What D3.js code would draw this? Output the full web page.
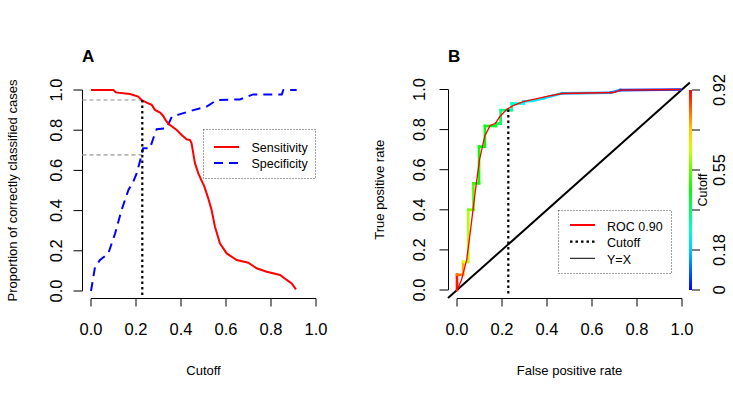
<!DOCTYPE html>
<html>
<head>
<meta charset="utf-8">
<script src="https://cdn.jsdelivr.net/npm/d3@7"></script>
<style>
  body { margin: 0; background: #fff; }
  text { font-family: "Liberation Sans", Arial, sans-serif; fill: #000; }
</style>
</head>
<body>
<script>
// panel A: sensitivity / specificity versus cutoff
const sensCut = [0, 0.1, 0.11, 0.173, 0.21, 0.225, 0.247, 0.27, 0.284, 0.307, 0.32, 0.336, 0.351, 0.381, 0.403, 0.425, 0.44, 0.447, 0.462, 0.477, 0.49, 0.504, 0.521, 0.536, 0.551, 0.573, 0.603, 0.648, 0.699, 0.736, 0.781, 0.84, 0.87, 0.892, 0.911];
const sensVal = [1, 1, 0.988, 0.98, 0.967, 0.95, 0.937, 0.926, 0.901, 0.888, 0.872, 0.843, 0.826, 0.801, 0.776, 0.755, 0.751, 0.735, 0.636, 0.585, 0.553, 0.519, 0.461, 0.403, 0.32, 0.237, 0.187, 0.154, 0.141, 0.113, 0.096, 0.08, 0.055, 0.038, 0.008];
const specCut = [0, 0.018, 0.04, 0.077, 0.107, 0.136, 0.166, 0.188, 0.203, 0.225, 0.232, 0.262, 0.277, 0.292, 0.336, 0.359, 0.396, 0.455, 0.514, 0.559, 0.662, 0.721, 0.848, 0.855, 0.914];
const specVal = [0, 0.12, 0.154, 0.187, 0.286, 0.403, 0.502, 0.544, 0.585, 0.676, 0.71, 0.71, 0.76, 0.805, 0.81, 0.867, 0.88, 0.9, 0.917, 0.95, 0.953, 0.978, 0.978, 1, 1];
const bestCutoff = 0.228;
const bestSens = 0.95;
const bestSpec = 0.677;

// panel B: ROC steps coloured by cutoff, plus smoothed ROC
const rocFpr = [0, 0, 0.027, 0.027, 0.05, 0.05, 0.073, 0.073, 0.098, 0.098, 0.124, 0.124, 0.173, 0.173, 0.194, 0.194, 0.243, 0.243, 0.295, 0.295, 0.34, 0.384, 0.422, 0.466, 0.681, 0.726, 0.993];
const rocTpr = [0, 0.076, 0.076, 0.14, 0.14, 0.4, 0.4, 0.532, 0.532, 0.715, 0.715, 0.818, 0.818, 0.83, 0.83, 0.897, 0.897, 0.93, 0.93, 0.94, 0.944, 0.956, 0.968, 0.981, 0.984, 0.997, 1];
const rocCut = [0.9, 0.82, 0.76, 0.66, 0.62, 0.57, 0.53, 0.49, 0.47, 0.46, 0.45, 0.44, 0.42, 0.4, 0.37, 0.34, 0.31, 0.27, 0.23, 0.22, 0.21, 0.2, 0.19, 0.16, 0.12, 0.06, 0.03];
const smoothFpr = [0, 0.02, 0.043, 0.058, 0.08, 0.1, 0.124, 0.147, 0.17, 0.19, 0.22, 0.25, 0.295, 0.4, 0.466, 0.696, 0.726, 0.993];
const smoothTpr = [0, 0.05, 0.15, 0.28, 0.48, 0.65, 0.77, 0.82, 0.83, 0.864, 0.9, 0.92, 0.94, 0.966, 0.98, 0.985, 0.997, 1];
const bestTpr = 0.9;

const axisTicks = [0, 0.2, 0.4, 0.6, 0.8, 1];
const axisLabels = ["0.0", "0.2", "0.4", "0.6", "0.8", "1.0"];
const cbTicks = [0, 0.184, 0.368, 0.552, 0.736, 0.92];
const cbLabels = ["0", "0.18", "", "0.55", "", "0.92"];

const svg = d3.select("body").append("svg")
  .attr("width", 733).attr("height", 400);

const xA = d3.scaleLinear([0, 1], [91, 316]);
const yA = d3.scaleLinear([0, 1], [291, 90]);
const xB = d3.scaleLinear([0, 1], [457, 682]);
const yB = d3.scaleLinear([0, 1], [290, 89.5]);

const hue = d3.scaleLinear([0, 0.92], [240, 0]);
const cutColor = c => d3.hsl(hue(c), 1, 0.5).toString();

function drawAxes(x, y, yLine, xLine, yLabelX, xLabelY) {
  const g = svg.append("g");
  g.append("line").attr("x1", x(0)).attr("x2", x(1))
    .attr("y1", yLine).attr("y2", yLine).attr("stroke", "#000");
  axisTicks.forEach((t, i) => {
    g.append("line").attr("x1", x(t)).attr("x2", x(t))
      .attr("y1", yLine).attr("y2", yLine + 8).attr("stroke", "#000");
    g.append("text").attr("x", x(t)).attr("y", xLabelY)
      .attr("text-anchor", "middle").attr("font-size", 16.5).text(axisLabels[i]);
  });
  g.append("line").attr("x1", xLine).attr("x2", xLine)
    .attr("y1", y(0)).attr("y2", y(1)).attr("stroke", "#000");
  axisTicks.forEach((t, i) => {
    g.append("line").attr("x1", xLine - 9).attr("x2", xLine)
      .attr("y1", y(t)).attr("y2", y(t)).attr("stroke", "#000");
    g.append("text").attr("transform", `translate(${yLabelX},${y(t)}) rotate(-90)`)
      .attr("text-anchor", "middle").attr("font-size", 16.5).text(axisLabels[i]);
  });
}

// ---------- panel A ----------
drawAxes(xA, yA, 298.5, 82.5, 61.5, 335);
svg.append("text").attr("x", 82).attr("y", 62).attr("font-size", 17)
  .attr("font-weight", "bold").text("A");
svg.append("text").attr("x", xA(0.5)).attr("y", 375).attr("text-anchor", "middle")
  .attr("font-size", 13).text("Cutoff");
svg.append("text").attr("transform", `translate(17,${yA(0.5)}) rotate(-90)`)
  .attr("text-anchor", "middle").attr("font-size", 13)
  .text("Proportion of correctly classified cases");

[bestSens, bestSpec].forEach(v => {
  svg.append("line").attr("x1", 82.5).attr("x2", xA(bestCutoff))
    .attr("y1", yA(v)).attr("y2", yA(v))
    .attr("stroke", "#b4b4b4").attr("stroke-width", 1.6).attr("stroke-dasharray", "4,3");
});

const lineA = d3.line().x(d => xA(d[0])).y(d => yA(d[1]));
svg.append("path").datum(d3.zip(specCut, specVal)).attr("d", lineA)
  .attr("fill", "none").attr("stroke", "#0000ff").attr("stroke-width", 2)
  .attr("stroke-dasharray", "9,6");
svg.append("path").datum(d3.zip(sensCut, sensVal)).attr("d", lineA)
  .attr("fill", "none").attr("stroke", "#ff0000").attr("stroke-width", 2);
svg.append("line").attr("x1", xA(bestCutoff)).attr("x2", xA(bestCutoff))
  .attr("y1", yA(bestSens)).attr("y2", yA(-0.02))
  .attr("stroke", "#000").attr("stroke-width", 2.2).attr("stroke-dasharray", "2.5,3");

// legend A
svg.append("rect").attr("x", 203.5).attr("y", 129.5).attr("width", 112).attr("height", 49)
  .attr("fill", "none").attr("stroke", "#444").attr("stroke-dasharray", "1,2");
svg.append("line").attr("x1", 214).attr("x2", 239).attr("y1", 147).attr("y2", 147)
  .attr("stroke", "#ff0000").attr("stroke-width", 2);
svg.append("line").attr("x1", 214).attr("x2", 240).attr("y1", 163).attr("y2", 163)
  .attr("stroke", "#0000ff").attr("stroke-width", 2).attr("stroke-dasharray", "9,6");
svg.append("text").attr("x", 251.5).attr("y", 151.7).attr("font-size", 12.5).text("Sensitivity");
svg.append("text").attr("x", 251.5).attr("y", 167.5).attr("font-size", 12.5).text("Specificity");

// ---------- panel B ----------
drawAxes(xB, yB, 298.5, 448.5, 425, 335);
svg.append("text").attr("x", 448).attr("y", 62).attr("font-size", 17)
  .attr("font-weight", "bold").text("B");
svg.append("text").attr("x", xB(0.5)).attr("y", 375).attr("text-anchor", "middle")
  .attr("font-size", 13).text("False positive rate");
svg.append("text").attr("transform", `translate(384,${yB(0.5)}) rotate(-90)`)
  .attr("text-anchor", "middle").attr("font-size", 13).text("True positive rate");

// Y = X
svg.append("line").attr("x1", xB(-0.04)).attr("y1", yB(-0.04))
  .attr("x2", xB(1.035)).attr("y2", yB(1.035))
  .attr("stroke", "#000").attr("stroke-width", 2);

// coloured step ROC
for (let i = 0; i < rocFpr.length - 1; i++) {
  svg.append("line")
    .attr("x1", xB(rocFpr[i])).attr("y1", yB(rocTpr[i]))
    .attr("x2", xB(rocFpr[i + 1])).attr("y2", yB(rocTpr[i + 1]))
    .attr("stroke", cutColor(rocCut[i])).attr("stroke-width", 2.6)
    .attr("stroke-linecap", "square");
}
const lineB = d3.line().x(d => xB(d[0])).y(d => yB(d[1]));
svg.append("path").datum(d3.zip(smoothFpr, smoothTpr)).attr("d", lineB)
  .attr("fill", "none").attr("stroke", "#ff0000").attr("stroke-width", 1.3);

svg.append("line").attr("x1", xB(bestCutoff)).attr("x2", xB(bestCutoff))
  .attr("y1", yB(bestTpr)).attr("y2", yB(-0.025))
  .attr("stroke", "#000").attr("stroke-width", 2.2).attr("stroke-dasharray", "2.5,3");

// colour bar
const cb = d3.scaleLinear([0, 0.92], [290, 90]);
const grad = svg.append("defs").append("linearGradient").attr("id", "cbGrad")
  .attr("x1", 0).attr("y1", 1).attr("x2", 0).attr("y2", 0);
d3.range(0, 1.0001, 0.1).forEach(f => {
  grad.append("stop").attr("offset", f).attr("stop-color", cutColor(f * 0.92));
});
svg.append("rect").attr("x", 689).attr("y", cb(0.92)).attr("width", 3)
  .attr("height", cb(0) - cb(0.92)).attr("fill", "url(#cbGrad)");
cbTicks.forEach((t, i) => {
  svg.append("line").attr("x1", 692).attr("x2", 700).attr("y1", cb(t)).attr("y2", cb(t))
    .attr("stroke", "#000");
  svg.append("text").attr("transform", `translate(725,${cb(t)}) rotate(-90)`)
    .attr("text-anchor", "middle").attr("font-size", 16.5).text(cbLabels[i]);
});
svg.append("text").attr("transform", "translate(707,190) rotate(-90)")
  .attr("text-anchor", "middle").attr("font-size", 12.5).text("Cutoff");

// legend B
svg.append("rect").attr("x", 558.5).attr("y", 210.5).attr("width", 113).attr("height", 63)
  .attr("fill", "none").attr("stroke", "#444").attr("stroke-dasharray", "1,2");
svg.append("line").attr("x1", 570).attr("x2", 595).attr("y1", 225).attr("y2", 225)
  .attr("stroke", "#ff0000").attr("stroke-width", 2);
svg.append("line").attr("x1", 570).attr("x2", 595).attr("y1", 241.7).attr("y2", 241.7)
  .attr("stroke", "#000").attr("stroke-width", 2.2).attr("stroke-dasharray", "2.5,3");
svg.append("line").attr("x1", 570).attr("x2", 595).attr("y1", 258.3).attr("y2", 258.3)
  .attr("stroke", "#000").attr("stroke-width", 1);
svg.append("text").attr("x", 607).attr("y", 230.7).attr("font-size", 12.5).text("ROC 0.90");
svg.append("text").attr("x", 607).attr("y", 247.3).attr("font-size", 12.5).text("Cutoff");
svg.append("text").attr("x", 607).attr("y", 264).attr("font-size", 12.5).text("Y=X");
</script>
</body>
</html>
